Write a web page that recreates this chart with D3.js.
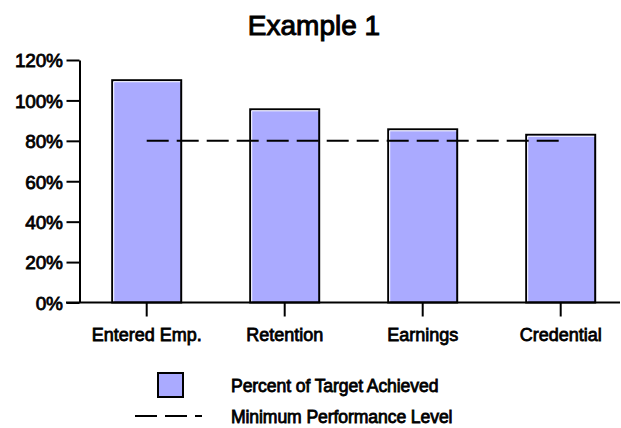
<!DOCTYPE html>
<html>
<head>
<meta charset="utf-8">
<script src="https://cdn.jsdelivr.net/npm/d3@7"></script>
<style>
  html, body { margin: 0; padding: 0; background: #fff; }
  svg { display: block; }
  text { font-family: "Liberation Sans", Arial, sans-serif; fill: #000; }
</style>
</head>
<body>
<svg id="chart" width="621" height="428"></svg>
<script>
const categories = ["Entered Emp.", "Retention", "Earnings", "Credential"];
const percentAchieved = [110, 95.6, 85.7, 83];
const minimumLevel = 80;
const yTicks = [0, 20, 40, 60, 80, 100, 120];
const titleText = "Example 1";
const legendLabels = ["Percent of Target Achieved", "Minimum Performance Level"];

const svg = d3.select("#chart");
const barFill = "#AAAAFF";

const x = d3.scaleBand().domain(categories).range([77.7, 629.7]).paddingInner(0.5).paddingOuter(0.25);
const y = d3.scaleLinear().domain([0, 120]).range([302.5, 60]);

// Title
svg.append("text")
  .attr("x", 314).attr("y", 35)
  .attr("text-anchor", "middle")
  .style("font-size", "28px")
  .style("stroke", "#000").style("stroke-width", 1)
  .text(titleText);

// Bars
const bars = svg.append("g");
bars.selectAll("rect.bar")
  .data(percentAchieved)
  .join("rect")
  .attr("class", "bar")
  .attr("x", (d, i) => x(categories[i]))
  .attr("y", d => y(d))
  .attr("width", x.bandwidth())
  .attr("height", d => y(0) - y(d))
  .attr("fill", barFill)
  .attr("stroke", "#000")
  .attr("stroke-width", 2);
// white inner highlight (top & left)
bars.selectAll("path.hl")
  .data(percentAchieved)
  .join("path")
  .attr("class", "hl")
  .attr("fill", "none")
  .attr("stroke", "#fff")
  .attr("stroke-width", 1)
  .attr("d", (d, i) => {
    const x0 = x(categories[i]) + 1.5, y0 = y(d) + 1.5;
    return `M${x0},${y(0) - 1}V${y0}H${x(categories[i]) + x.bandwidth() - 1}`;
  });

// Minimum performance dashed line (from first to last category center)
svg.append("line")
  .attr("x1", x(categories[0]) + x.bandwidth() / 2)
  .attr("x2", x(categories[categories.length - 1]) + x.bandwidth() / 2)
  .attr("y1", y(minimumLevel)).attr("y2", y(minimumLevel))
  .attr("stroke", "#000").attr("stroke-width", 2)
  .attr("stroke-dasharray", "22,8");

// Y axis
const yAxis = d3.axisLeft(y)
  .tickValues(yTicks)
  .tickFormat(d => d + "%")
  .tickSize(13)
  .tickSizeOuter(0)
  .tickPadding(4);
const gy = svg.append("g").attr("transform", "translate(79.5,0)").call(yAxis);
gy.select(".domain").attr("stroke-width", 2);
gy.selectAll(".tick line").attr("stroke-width", 2);
gy.selectAll(".tick text")
  .style("font-family", '"Liberation Sans", Arial, sans-serif')
  .style("font-size", "19px")
  .style("letter-spacing", "-0.3px")
  .style("stroke", "#000").style("stroke-width", 0.8)
  .attr("dy", "0.36em");

// X axis
const xAxis = d3.axisBottom(x).tickSize(14).tickSizeOuter(0).tickPadding(12);
const gx = svg.append("g").attr("transform", `translate(0,${y(0)})`).call(xAxis);
gx.select(".domain").remove();
gx.append("line").attr("x1", 66).attr("x2", 620).attr("y1", 0).attr("y2", 0)
  .attr("stroke", "#000").attr("stroke-width", 2);
gx.selectAll(".tick line").attr("stroke-width", 2);
gx.selectAll(".tick text")
  .style("font-family", '"Liberation Sans", Arial, sans-serif')
  .style("font-size", "18px")
  .style("stroke", "#000").style("stroke-width", 0.8);

// Legend
const lg = svg.append("g");
lg.append("rect")
  .attr("x", 158).attr("y", 373).attr("width", 25).attr("height", 24)
  .attr("fill", barFill).attr("stroke", "#000").attr("stroke-width", 2);
lg.append("line")
  .attr("x1", 135).attr("x2", 202).attr("y1", 416).attr("y2", 416)
  .attr("stroke", "#000").attr("stroke-width", 2)
  .attr("stroke-dasharray", "22,8");
lg.selectAll("text")
  .data(legendLabels)
  .join("text")
  .attr("x", 231)
  .attr("y", (d, i) => 391.5 + i * 31)
  .style("font-size", "17.6px")
  .style("letter-spacing", "-0.1px")
  .style("stroke", "#000").style("stroke-width", 0.8)
  .text(d => d);
</script>
</body>
</html>
